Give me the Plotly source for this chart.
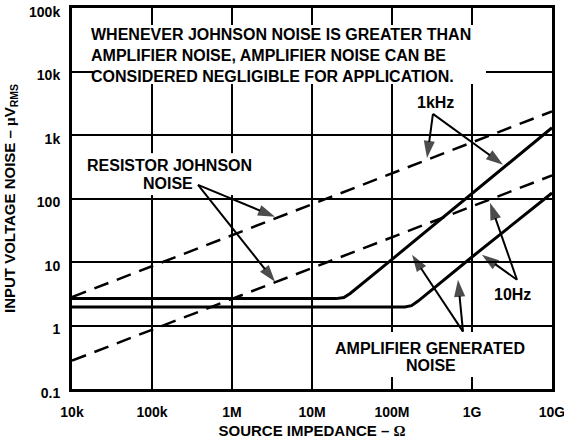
import plotly.graph_objects as go

# ---- data ----
x_ticks = [1e4, 1e5, 1e6, 1e7, 1e8, 1e9, 1e10]
x_ticklabels = ["10k", "100k", "1M", "10M", "100M", "1G", "10G"]
y_ticks = [0.1, 1, 10, 100, 1e3, 1e4, 1e5]
y_ticklabels = ["0.1", "1", "10", "100", "1k", "10k", "100k"]

# resistor Johnson noise (dashed)
johnson_r = [1e4, 1e10]
johnson_1khz = [2.8, 2350]
johnson_10hz = [0.28, 230]

# amplifier generated noise (solid)
amp_1khz_r = [1e4, 2.0e7, 2.5e7, 3.0e7, 1e8, 1e9, 1e10]
amp_1khz_v = [2.65, 2.65, 2.75, 3.2, 11, 118, 1300]
amp_10hz_r = [1e4, 1.45e8, 1.75e8, 2.1e8, 1e9, 1e10]
amp_10hz_v = [1.95, 1.95, 2.05, 2.4, 12, 122]

# arrows: (tail x, tail y, head x, head y)
arrow_tail_x = [3.25e8, 3.25e8, 3.76e5, 3.76e5, 3.65e9, 3.65e9, 7.72e8, 7.72e8]
arrow_tail_y = [2148, 2148, 164, 164, 5.25, 5.25, 0.80, 0.80]
arrow_head_x = [2.74e8, 2.44e9, 3.45e6, 3.45e6, 1.68e9, 1.33e9, 1.78e8, 6.68e8]
arrow_head_y = [436, 339, 51.4, 4.88, 85.5, 13.0, 13.0, 5.25]

FONT = "Liberation Sans, Arial, Helvetica, sans-serif"

fig = go.Figure()

for yv in (johnson_1khz, johnson_10hz):
    fig.add_trace(go.Scatter(x=johnson_r, y=yv, mode="lines",
                             line=dict(color="black", width=2.5, dash="15px,9px"),
                             showlegend=False, hoverinfo="skip"))

for xv, yv in ((amp_1khz_r, amp_1khz_v), (amp_10hz_r, amp_10hz_v)):
    fig.add_trace(go.Scatter(x=xv, y=yv, mode="lines",
                             line=dict(color="black", width=3),
                             showlegend=False, hoverinfo="skip"))

for tx, ty, hx, hy in zip(arrow_tail_x, arrow_tail_y, arrow_head_x, arrow_head_y):
    fig.add_trace(go.Scatter(x=[tx, hx], y=[ty, hy], mode="lines+markers",
                             line=dict(color="black", width=2),
                             marker=dict(symbol="arrow", angleref="previous",
                                         size=[0, 18], color="black",
                                         line=dict(width=0)),
                             showlegend=False, hoverinfo="skip"))

# white masks over the gridline segments hidden behind text blocks
masks = [
    (0.0438, 0.8625, 0.8005, 0.9554),   # top note
    (0.152, 0.182, 0.509, 0.619),       # resistor label over 100k line
    (0.318, 0.348, 0.509, 0.619),       # resistor label over 1M line
    (0.640, 0.690, 0.0315, 0.1496),     # amplifier label over 100M line
    (0.810, 0.860, 0.0315, 0.1496),     # amplifier label over 1G line
]
for x0, x1, y0, y1 in masks:
    fig.add_shape(type="rect", xref="paper", yref="paper", x0=x0, x1=x1, y0=y0, y1=y1,
                  fillcolor="white", line=dict(width=0), layer="above")

tf = dict(family=FONT, size=16, color="black", weight="bold")
fig.add_annotation(xref="paper", yref="paper", x=0.0355, y=0.8766, xanchor="left",
                   yanchor="middle", align="left", showarrow=False, font=tf,
                   text="WHENEVER JOHNSON NOISE IS GREATER THAN<br>"
                        "AMPLIFIER NOISE, AMPLIFIER NOISE CAN BE<br>"
                        "CONSIDERED NEGLIGIBLE FOR APPLICATION.")
labels = [("RESISTOR JOHNSON", 0.2031, 0.586), ("NOISE", 0.201, 0.540),
          ("1kHz", 0.757, 0.753), ("10Hz", 0.918, 0.2475),
          ("AMPLIFIER GENERATED", 0.745, 0.1055), ("NOISE", 0.747, 0.0617)]
for txt, px, py in labels:
    fig.add_annotation(xref="paper", yref="paper", x=px, y=py, xanchor="center",
                       yanchor="middle", showarrow=False, font=tf, text=txt)

axis_common = dict(type="log", showgrid=True, gridcolor="black", gridwidth=2,
                   showline=True, linecolor="black", linewidth=3, mirror=True,
                   automargin=False, ticklabeloverflow="allow",
                   ticks="", tickfont=dict(family=FONT, size=14, color="black", weight="bold"),
                   title_font=dict(family=FONT, size=15, color="black", weight="bold"))

fig.update_xaxes(range=[4, 10], tickvals=x_ticks, ticktext=x_ticklabels,
                 ticklabelstandoff=8,
                 title=dict(text="SOURCE IMPEDANCE – <span style='font-family:Liberation Serif'>Ω</span>",
                            standoff=7), **axis_common)
fig.update_yaxes(range=[-1, 5], tickvals=y_ticks, ticktext=y_ticklabels,
                 ticklabelstandoff=6, ticklabelshift=4,
                 title=dict(text="INPUT VOLTAGE NOISE – <span style='font-family:Liberation Serif'>µ</span>V<sub>RMS</sub>",
                            standoff=10), **axis_common)

fig.update_layout(width=564, height=442, margin=dict(l=72, r=12, t=8, b=53),
                  plot_bgcolor="white", paper_bgcolor="white", showlegend=False)

# remove the default page margin so the figure sits at the window's top-left corner
fig.write_html("out.html", config={"displayModeBar": False},
               post_script="document.body.style.margin='0';document.body.style.overflow='hidden';")
